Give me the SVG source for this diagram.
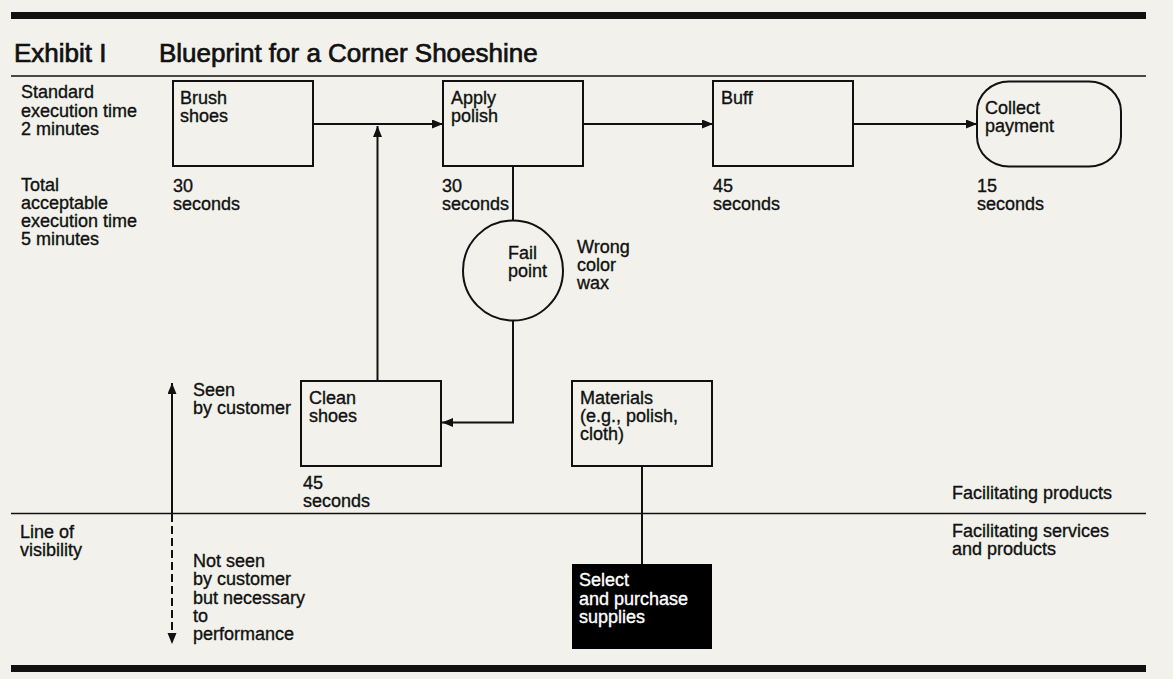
<svg xmlns="http://www.w3.org/2000/svg" width="1173" height="679" viewBox="0 0 1173 679">
<defs>
<marker id="ah" markerUnits="userSpaceOnUse" markerWidth="12" markerHeight="10" refX="11" refY="4.5" orient="auto">
<path d="M0,0 L11,4.5 L0,9 z" fill="#111"/>
</marker>
<style>
text{font-family:"Liberation Sans",Arial,sans-serif;font-size:18px;fill:#111;stroke:#111;stroke-width:0.35}
.title{font-size:26px;stroke-width:0.7}
.box{fill:none;stroke:#111;stroke-width:2}
.con{fill:none;stroke:#111;stroke-width:2}
.rule{stroke:#111;stroke-width:1.6}
.wt{fill:#fff;stroke:#fff}
</style>
</defs>
<rect x="0" y="0" width="1173" height="679" fill="#f2f1ec"/>
<rect x="11" y="12" width="1135" height="7" fill="#111"/>
<rect x="11" y="665" width="1135" height="7" fill="#111"/>
<line class="rule" x1="11" y1="76" x2="1146" y2="76"/>
<line class="rule" x1="11" y1="513.5" x2="1146" y2="513.5"/>
<text class="title" x="14" y="62">Exhibit I</text>
<text class="title" x="159" y="62">Blueprint for a Corner Shoeshine</text>
<g id="labels">
<text x="21" y="98">Standard</text>
<text x="21" y="116.5">execution time</text>
<text x="21" y="135">2 minutes</text>
<text x="21" y="191">Total</text>
<text x="21" y="209">acceptable</text>
<text x="21" y="227">execution time</text>
<text x="21" y="245">5 minutes</text>
<text x="20" y="538">Line of</text>
<text x="20" y="556">visibility</text>
<text x="193" y="396">Seen</text>
<text x="193" y="414">by customer</text>
<text x="193" y="567">Not seen</text>
<text x="193" y="585">by customer</text>
<text x="193" y="603.5">but necessary</text>
<text x="193" y="622">to</text>
<text x="193" y="640">performance</text>
<text x="952" y="498.5">Facilitating products</text>
<text x="952" y="537">Facilitating services</text>
<text x="952" y="555">and products</text>
<text x="577" y="253">Wrong</text>
<text x="577" y="271">color</text>
<text x="577" y="289">wax</text>
</g>
<g id="connectors">
<line class="con" x1="313" y1="124" x2="443" y2="124" marker-end="url(#ah)"/>
<line class="con" x1="377.5" y1="381" x2="377.5" y2="126" marker-end="url(#ah)"/>
<line class="con" x1="583" y1="124" x2="713" y2="124" marker-end="url(#ah)"/>
<line class="con" x1="853" y1="124" x2="977" y2="124" marker-end="url(#ah)"/>
<line class="con" x1="513" y1="166" x2="513" y2="220.5"/>
<path class="con" d="M513,320.5 V422.5 H442" marker-end="url(#ah)"/>
<line class="con" x1="642" y1="466" x2="642" y2="564"/>
<line class="con" x1="172" y1="513" x2="172" y2="383" marker-end="url(#ah)"/>
<line class="con" x1="172" y1="514" x2="172" y2="644" stroke-dasharray="8,4" marker-end="url(#ah)"/>
</g>
<g id="brush">
<rect class="box" x="173" y="81" width="140" height="85"/>
<text x="180" y="104">Brush</text>
<text x="180" y="122">shoes</text>
<text x="173" y="191.5">30</text>
<text x="173" y="209.5">seconds</text>
</g>
<g id="apply">
<rect class="box" x="443" y="81" width="140" height="85"/>
<text x="451" y="104">Apply</text>
<text x="451" y="122">polish</text>
<text x="442" y="191.5">30</text>
<text x="442" y="209.5">seconds</text>
</g>
<g id="buff">
<rect class="box" x="713" y="81" width="140" height="85"/>
<text x="721" y="103.5">Buff</text>
<text x="713" y="191.5">45</text>
<text x="713" y="209.5">seconds</text>
</g>
<g id="collect">
<rect class="box" x="977" y="81.5" width="144" height="85" rx="32" ry="30"/>
<text x="985" y="113.5">Collect</text>
<text x="985" y="131.5">payment</text>
<text x="977" y="191.5">15</text>
<text x="977" y="209.5">seconds</text>
</g>
<g id="fail">
<circle class="box" cx="513" cy="270.5" r="50"/>
<text x="508" y="258.5">Fail</text>
<text x="508" y="276.5">point</text>
</g>
<g id="clean">
<rect class="box" x="301" y="381" width="140" height="85"/>
<text x="309" y="403.5">Clean</text>
<text x="309" y="421.5">shoes</text>
<text x="303" y="488.5">45</text>
<text x="303" y="506.5">seconds</text>
</g>
<g id="materials">
<rect class="box" x="572" y="381" width="140" height="85"/>
<text x="580" y="403.5">Materials</text>
<text x="580" y="421.5">(e.g., polish,</text>
<text x="580" y="440">cloth)</text>
</g>
<g id="select">
<rect x="572" y="564" width="140" height="85" fill="#000"/>
<text class="wt" x="579" y="586">Select</text>
<text class="wt" x="579" y="604.5">and purchase</text>
<text class="wt" x="579" y="623">supplies</text>
</g>
</svg>
